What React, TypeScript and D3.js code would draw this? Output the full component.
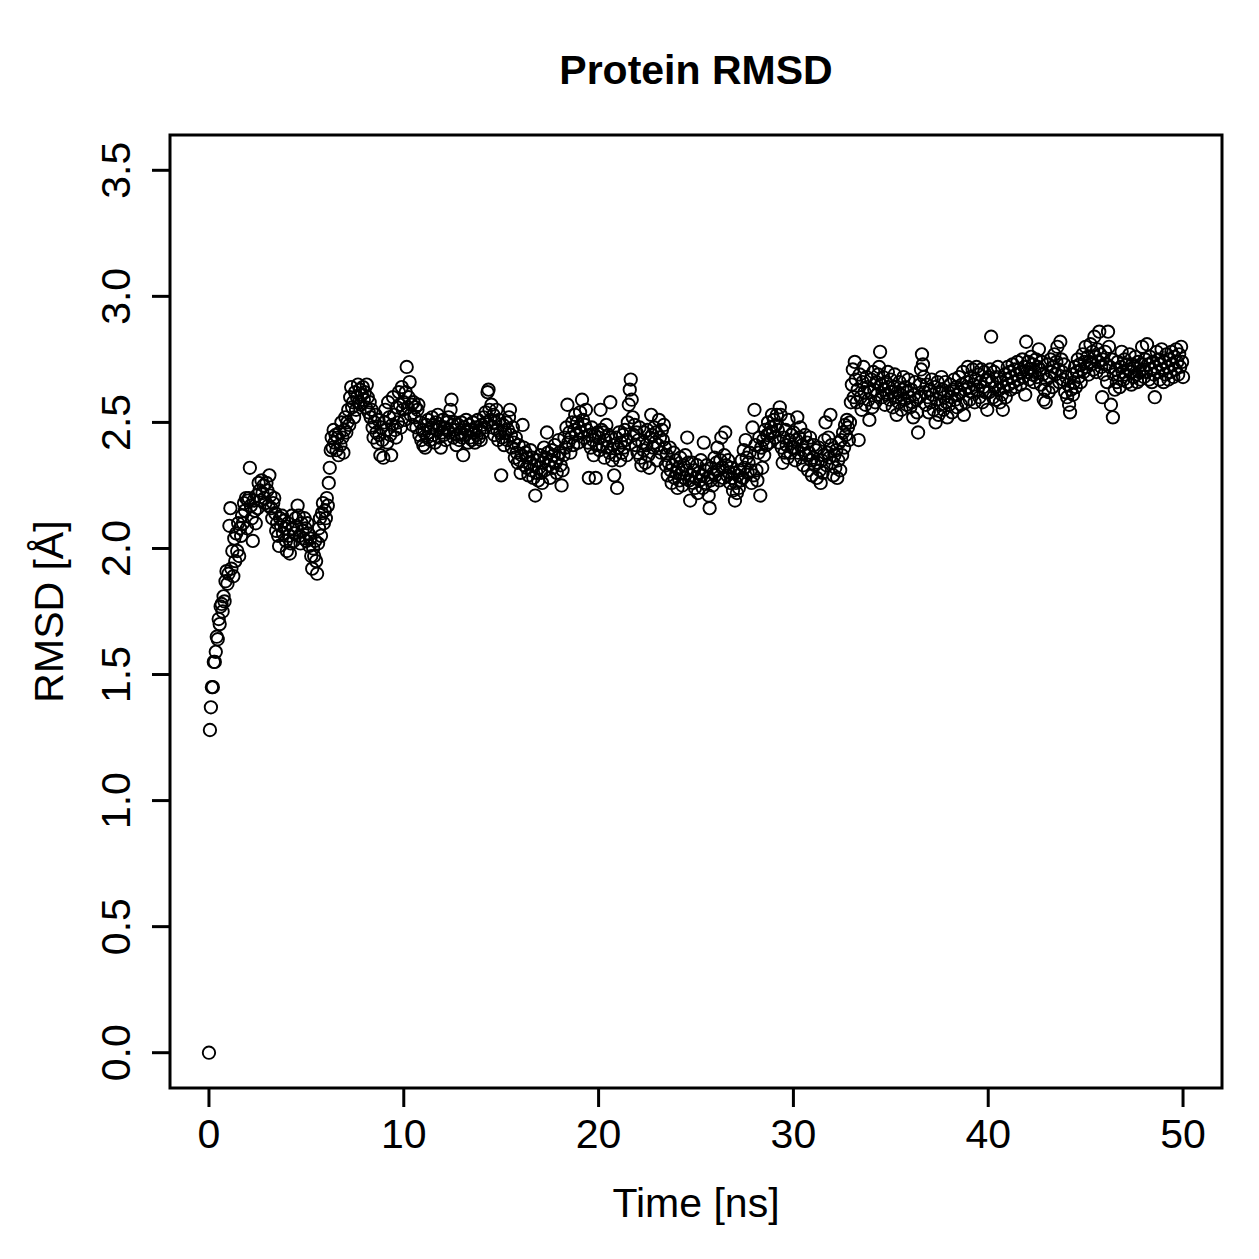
import React from "react";
import * as d3 from "d3";

// RMSD trajectory sampled every 0.05 ns, split into 10 ns blocks.
const SAMPLE_STEP = 0.05;

const rmsd00 = [
  0.0, 1.28, 1.37, 1.45, 1.45, 1.55, 1.55, 1.59, 1.65, 1.64, 1.72, 1.7, 1.77, 1.78, 1.75, 1.81, 1.79, 1.87, 1.91, 1.86,
  1.9, 2.09, 2.16, 1.92, 1.99, 1.89, 2.04, 1.95, 2.06, 1.99, 2.1, 1.97, 2.08, 2.05, 2.13, 2.1, 2.18, 2.15, 2.2, 2.08,
  2.19, 2.2, 2.32, 2.17, 2.12, 2.03, 2.19, 2.15, 2.1, 2.21, 2.16, 2.26, 2.23, 2.19, 2.27, 2.22, 2.25, 2.2, 2.18, 2.26,
  2.23, 2.17, 2.29, 2.21, 2.16, 2.12, 2.18, 2.2, 2.14, 2.07, 2.1, 2.05, 2.01, 2.12, 2.09, 2.13, 2.06, 2.11, 2.08, 2.03,
  1.99, 2.1, 2.05, 1.98, 2.02, 2.13, 2.08, 2.03, 2.06, 2.12, 2.09, 2.17, 2.13, 2.05, 2.02, 2.1, 2.07, 2.04, 2.12, 2.08,
  2.03, 2.1, 2.06, 2.01, 2.04, 1.97, 1.92, 2.0, 1.97, 2.03, 1.95, 1.9, 2.02, 2.08, 2.12, 2.05, 2.14, 2.18, 2.1, 2.15,
  2.12, 2.2, 2.17, 2.26, 2.32, 2.39, 2.44, 2.4, 2.47, 2.42, 2.45, 2.39, 2.44, 2.37, 2.46, 2.41, 2.5, 2.44, 2.38, 2.47,
  2.52, 2.46, 2.5, 2.55, 2.49, 2.6, 2.64, 2.56, 2.58, 2.52, 2.62, 2.55, 2.6, 2.65, 2.58, 2.63, 2.57, 2.61, 2.64, 2.59,
  2.62, 2.56, 2.65, 2.6, 2.54, 2.58, 2.52, 2.55, 2.48, 2.44, 2.5, 2.53, 2.46, 2.42, 2.51, 2.45, 2.37, 2.48, 2.43, 2.36,
  2.5, 2.55, 2.47, 2.42, 2.58, 2.52, 2.45, 2.37, 2.49, 2.6, 2.53, 2.47, 2.44, 2.56, 2.5, 2.62, 2.57, 2.48, 2.64, 2.55,
];

const rmsd10 = [
  2.58, 2.51, 2.62, 2.72, 2.56, 2.6, 2.66, 2.53, 2.57, 2.49, 2.58, 2.52, 2.56, 2.48, 2.55, 2.57, 2.45, 2.5, 2.43, 2.47,
  2.41, 2.46, 2.4, 2.49, 2.44, 2.51, 2.46, 2.43, 2.48, 2.52, 2.45, 2.49, 2.42, 2.5, 2.47, 2.53, 2.44, 2.48, 2.4, 2.46,
  2.51, 2.45, 2.48, 2.43, 2.5, 2.47, 2.52, 2.46, 2.55, 2.59, 2.49, 2.44, 2.5, 2.47, 2.41, 2.45, 2.49, 2.43, 2.46, 2.5,
  2.44, 2.37, 2.48, 2.45, 2.51, 2.47, 2.42, 2.49, 2.44, 2.47, 2.43, 2.5, 2.46, 2.42, 2.48, 2.45, 2.51, 2.44, 2.47, 2.43,
  2.49, 2.46, 2.52, 2.48, 2.54, 2.5, 2.62, 2.63, 2.55, 2.51, 2.57, 2.48, 2.53, 2.45, 2.5, 2.55, 2.47, 2.43, 2.51, 2.46,
  2.29, 2.44, 2.49, 2.41, 2.46, 2.5, 2.43, 2.47, 2.52, 2.55, 2.45, 2.4, 2.48, 2.42, 2.36, 2.44, 2.38, 2.34, 2.41, 2.35,
  2.3, 2.37, 2.49, 2.4, 2.33, 2.38, 2.32, 2.36, 2.29, 2.34, 2.39, 2.31, 2.36, 2.28, 2.33, 2.21, 2.3, 2.35, 2.27, 2.32,
  2.37, 2.3, 2.26, 2.34, 2.4, 2.31, 2.36, 2.46, 2.38, 2.33, 2.28, 2.35, 2.39, 2.32, 2.37, 2.41, 2.34, 2.3, 2.36, 2.43,
  2.38, 2.33, 2.25, 2.31, 2.37, 2.44, 2.4, 2.48, 2.57, 2.42, 2.46, 2.38, 2.44, 2.5, 2.41, 2.47, 2.53, 2.45, 2.5, 2.42,
  2.48, 2.54, 2.46, 2.59, 2.51, 2.44, 2.49, 2.55, 2.47, 2.42, 2.28, 2.45, 2.4, 2.48, 2.43, 2.37, 2.45, 2.28, 2.41, 2.46,
];

const rmsd20 = [
  2.44, 2.39, 2.55, 2.47, 2.41, 2.46, 2.36, 2.43, 2.49, 2.4, 2.45, 2.38, 2.58, 2.44, 2.35, 2.41, 2.29, 2.37, 2.44, 2.24,
  2.4, 2.46, 2.35, 2.42, 2.38, 2.45, 2.4, 2.47, 2.43, 2.37, 2.5, 2.57, 2.63, 2.67, 2.59, 2.52, 2.45, 2.49, 2.41, 2.46,
  2.38, 2.43, 2.48, 2.36, 2.33, 2.42, 2.39, 2.46, 2.34, 2.41, 2.47, 2.37, 2.32, 2.44, 2.53, 2.45, 2.4, 2.48, 2.42, 2.46,
  2.35, 2.41, 2.51, 2.44, 2.38, 2.47, 2.43, 2.49, 2.4, 2.33, 2.37, 2.29, 2.34, 2.4, 2.31, 2.26, 2.33, 2.38, 2.28, 2.35,
  2.3, 2.24, 2.32, 2.27, 2.36, 2.3, 2.25, 2.33, 2.28, 2.37, 2.31, 2.44, 2.34, 2.27, 2.19, 2.29, 2.34, 2.26, 2.31, 2.24,
  2.28, 2.33, 2.22, 2.3, 2.27, 2.35, 2.29, 2.24, 2.42, 2.31, 2.26, 2.33, 2.28, 2.21, 2.16, 2.27, 2.32, 2.25, 2.3, 2.36,
  2.29, 2.34, 2.4, 2.31, 2.27, 2.35, 2.44, 2.32, 2.28, 2.37, 2.46, 2.33, 2.29, 2.35, 2.3, 2.26, 2.32, 2.28, 2.23, 2.3,
  2.19, 2.26, 2.22, 2.29, 2.24, 2.31, 2.27, 2.35, 2.28, 2.39, 2.32, 2.43, 2.36, 2.3, 2.34, 2.38, 2.31, 2.26, 2.48, 2.29,
  2.55, 2.41, 2.31, 2.27, 2.38, 2.44, 2.21, 2.4, 2.32, 2.43, 2.37, 2.47, 2.41, 2.45, 2.5, 2.42, 2.46, 2.48, 2.53, 2.46,
  2.51, 2.44, 2.49, 2.53, 2.47, 2.42, 2.56, 2.53, 2.4, 2.34, 2.44, 2.38, 2.47, 2.41, 2.36, 2.51, 2.43, 2.38, 2.45, 2.4,
];

const rmsd30 = [
  2.46, 2.4, 2.35, 2.43, 2.52, 2.38, 2.44, 2.48, 2.36, 2.41, 2.33, 2.39, 2.45, 2.37, 2.42, 2.31, 2.38, 2.44, 2.35, 2.29,
  2.36, 2.41, 2.33, 2.39, 2.28, 2.34, 2.4, 2.31, 2.26, 2.35, 2.3, 2.37, 2.43, 2.5, 2.33, 2.38, 2.44, 2.36, 2.53, 2.41,
  2.34, 2.29, 2.37, 2.32, 2.39, 2.28, 2.35, 2.42, 2.31, 2.43, 2.37, 2.46, 2.4, 2.49, 2.45, 2.51, 2.48, 2.43, 2.5, 2.58,
  2.65, 2.71, 2.6, 2.74, 2.67, 2.58, 2.63, 2.43, 2.69, 2.6, 2.55, 2.66, 2.72, 2.62, 2.57, 2.68, 2.64, 2.59, 2.51, 2.62,
  2.67, 2.56, 2.7, 2.63, 2.58, 2.66, 2.61, 2.69, 2.72, 2.78, 2.65, 2.6, 2.68, 2.63, 2.57, 2.66, 2.61, 2.7, 2.64, 2.59,
  2.67, 2.62, 2.56, 2.64, 2.69, 2.6, 2.53, 2.62, 2.58, 2.66, 2.61, 2.55, 2.63, 2.68, 2.59, 2.64, 2.57, 2.62, 2.67, 2.6,
  2.56, 2.63, 2.58, 2.52, 2.61, 2.66, 2.59, 2.54, 2.46, 2.6, 2.65, 2.71, 2.77, 2.73, 2.68, 2.62, 2.57, 2.65, 2.6, 2.54,
  2.63, 2.58, 2.67, 2.61, 2.55, 2.64, 2.5, 2.59, 2.66, 2.53, 2.62, 2.57, 2.68, 2.63, 2.55, 2.6, 2.66, 2.58, 2.52, 2.62,
  2.57, 2.65, 2.6, 2.54, 2.63, 2.67, 2.59, 2.64, 2.56, 2.61, 2.68, 2.62, 2.57, 2.65, 2.7, 2.53, 2.63, 2.58, 2.66, 2.72,
  2.64, 2.59, 2.68, 2.62, 2.71, 2.65, 2.58, 2.67, 2.72, 2.63, 2.69, 2.6, 2.66, 2.71, 2.58, 2.64, 2.7, 2.62, 2.67, 2.55,
];

const rmsd40 = [
  2.68, 2.62, 2.71, 2.84, 2.66, 2.6, 2.7, 2.64, 2.59, 2.68, 2.72, 2.63, 2.58, 2.66, 2.61, 2.55, 2.64, 2.69, 2.6, 2.67,
  2.72, 2.65, 2.7, 2.63, 2.68, 2.73, 2.66, 2.71, 2.64, 2.69, 2.74, 2.67, 2.71, 2.65, 2.7, 2.75, 2.68, 2.72, 2.61, 2.82,
  2.7, 2.74, 2.67, 2.71, 2.76, 2.69, 2.73, 2.66, 2.7, 2.75, 2.68, 2.72, 2.79, 2.71, 2.65, 2.74, 2.69, 2.59, 2.63, 2.58,
  2.67, 2.73, 2.62, 2.68, 2.75, 2.7, 2.64, 2.72, 2.77, 2.69, 2.74, 2.8, 2.71, 2.66, 2.82, 2.75, 2.7, 2.67, 2.73, 2.62,
  2.68, 2.6, 2.65, 2.57, 2.54, 2.63, 2.69, 2.61, 2.66, 2.72, 2.64, 2.7, 2.75, 2.68, 2.73, 2.66, 2.71, 2.77, 2.7, 2.74,
  2.8, 2.72, 2.76, 2.69, 2.74, 2.81, 2.73, 2.78, 2.71, 2.84, 2.76, 2.7, 2.79, 2.74, 2.86, 2.77, 2.72, 2.6, 2.75, 2.69,
  2.78, 2.73, 2.66, 2.86, 2.8, 2.72, 2.57, 2.75, 2.52, 2.69, 2.63, 2.71, 2.66, 2.74, 2.69, 2.64, 2.72, 2.78, 2.7, 2.67,
  2.75, 2.69, 2.73, 2.66, 2.71, 2.77, 2.7, 2.65, 2.73, 2.68, 2.72, 2.76, 2.69, 2.66, 2.74, 2.7, 2.67, 2.73, 2.8, 2.71,
  2.68, 2.75, 2.7, 2.81, 2.73, 2.67, 2.76, 2.71, 2.66, 2.74, 2.69, 2.6, 2.72, 2.78, 2.7, 2.75, 2.67, 2.73, 2.79, 2.71,
  2.66, 2.74, 2.69, 2.77, 2.72, 2.67, 2.75, 2.7, 2.78, 2.73, 2.68, 2.76, 2.71, 2.79, 2.74, 2.69, 2.77, 2.72, 2.8, 2.74,
  2.68,
];

// Each block with the time (ns) of its first frame.
const blocks: { start: number; values: number[] }[] = [
  { start: 0, values: rmsd00 },
  { start: 10, values: rmsd10 },
  { start: 20, values: rmsd20 },
  { start: 30, values: rmsd30 },
  { start: 40, values: rmsd40 },
];

const xTicks = [0, 10, 20, 30, 40, 50];
const yTicks = [0, 0.5, 1, 1.5, 2, 2.5, 3, 3.5];

const chartTitle = "Protein RMSD";
const xTitle = "Time [ns]";
const yTitle = "RMSD [Å]";

const W = 1259;
const H = 1259;
const plot = { left: 170, right: 1222, top: 135, bottom: 1088 };
const FONT = "'Liberation Sans', Arial, Helvetica, sans-serif";
const FS = 41;

export default function App() {
  const x = d3.scaleLinear().domain([-2, 52]).range([plot.left, plot.right]);
  const y = d3.scaleLinear().domain([-0.14, 3.64]).range([plot.bottom, plot.top]);

  const points = blocks.flatMap((b) =>
    b.values.map((v, j) => ({ t: b.start + j * SAMPLE_STEP, v }))
  );

  const cx = (plot.left + plot.right) / 2;
  const cy = (plot.top + plot.bottom) / 2;

  return (
    <svg
      width={W}
      height={H}
      viewBox={`0 0 ${W} ${H}`}
      style={{ position: "absolute", left: 0, top: 0, background: "#fff" }}
      fontFamily={FONT}
    >
      <rect x={0} y={0} width={W} height={H} fill="#fff" />

      {/* data points */}
      <g fill="none" stroke="#000" strokeWidth={1.9}>
        {points.map((p, i) => (
          <circle key={i} cx={x(p.t)} cy={y(p.v)} r={6.2} />
        ))}
      </g>

      {/* frame */}
      <rect
        x={plot.left}
        y={plot.top}
        width={plot.right - plot.left}
        height={plot.bottom - plot.top}
        fill="none"
        stroke="#000"
        strokeWidth={3}
      />

      {/* x axis */}
      <g>
        {xTicks.map((t) => (
          <g key={t}>
            <line x1={x(t)} x2={x(t)} y1={plot.bottom} y2={plot.bottom + 19} stroke="#000" strokeWidth={3} />
            <text x={x(t)} y={1148} fontSize={FS} textAnchor="middle" fill="#000">
              {String(t)}
            </text>
          </g>
        ))}
      </g>

      {/* y axis */}
      <g>
        {yTicks.map((t) => (
          <g key={t}>
            <line x1={plot.left - 18} x2={plot.left} y1={y(t)} y2={y(t)} stroke="#000" strokeWidth={3} />
            <text
              transform={`translate(130, ${y(t)}) rotate(-90)`}
              fontSize={FS}
              textAnchor="middle"
              fill="#000"
            >
              {t.toFixed(1)}
            </text>
          </g>
        ))}
      </g>

      {/* titles */}
      <text x={cx} y={84} fontSize={FS} fontWeight="bold" textAnchor="middle" fill="#000">
        {chartTitle}
      </text>
      <text x={cx} y={1217} fontSize={FS} textAnchor="middle" fill="#000">
        {xTitle}
      </text>
      <text transform={`translate(63, ${cy}) rotate(-90)`} fontSize={FS} textAnchor="middle" fill="#000">
        {yTitle}
      </text>
    </svg>
  );
}
